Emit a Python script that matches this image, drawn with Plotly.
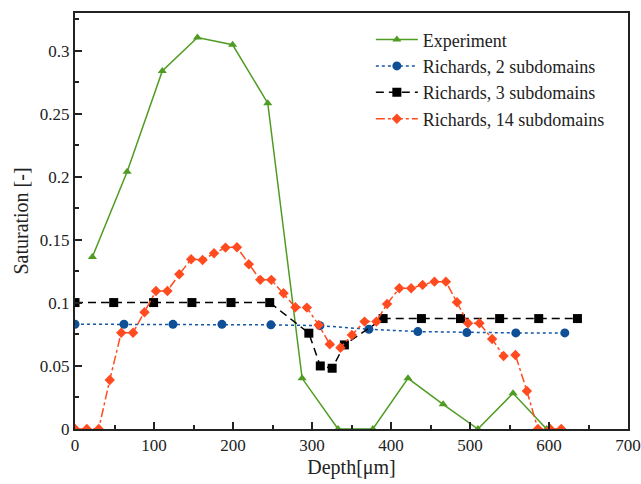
import plotly.graph_objects as go

# Experiment
exp_x = [22, 66, 110.5, 155, 199.5, 244, 287.5, 333, 377, 421.5, 466, 510, 554.5, 597]
exp_y = [0.1365, 0.204, 0.284, 0.3105, 0.3048, 0.2585, 0.0402, 0.0, 0.0, 0.0402, 0.0196, 0.0, 0.0283, 0.0]

# Richards, 2 subdomains
r2_x = [0, 62, 124, 186, 248, 310, 372, 434, 496, 558, 620]
r2_y = [0.0831, 0.0831, 0.083, 0.083, 0.0826, 0.082, 0.0791, 0.0773, 0.0765, 0.0762, 0.0762]

# Richards, 3 subdomains
r3_x = [0, 49, 99.5, 148, 197.5, 246.5, 296, 310.5, 325.5, 341, 390, 438.5, 488, 537.5, 587, 636]
r3_y = [0.1003, 0.1003, 0.1003, 0.1003, 0.1003, 0.1003, 0.076, 0.050, 0.0482, 0.0667,
        0.0876, 0.0876, 0.0876, 0.0876, 0.0876, 0.0876]

# Richards, 14 subdomains
r14_x = [0, 15, 30, 44, 58.5, 73.5, 88, 102.5, 117, 132, 147, 161.5, 176, 190.5, 205,
         220, 234.5, 248.5, 264, 279, 293.5, 308.5, 322.5, 336, 350.5, 366.5, 381.5,
         395, 410.5, 425.5, 440, 455, 469.5, 483.5, 497.5, 512, 528, 542.5, 557.5,
         572, 586, 601.5, 615.5]
r14_y = [0.0, 0.0, 0.0, 0.0389, 0.0764, 0.0764, 0.0926, 0.1095, 0.1095, 0.1228, 0.1347,
         0.1341, 0.1394, 0.1439, 0.1442, 0.1307, 0.1183, 0.1183, 0.1077, 0.0966, 0.0963,
         0.0825, 0.0672, 0.0645, 0.0746, 0.0852, 0.0852, 0.0992, 0.1117, 0.1117, 0.1143,
         0.1169, 0.1169, 0.1005, 0.0839, 0.0839, 0.0714, 0.0579, 0.0587, 0.0302, 0.0,
         0.0, 0.0]

FONT = "Liberation Serif, Times New Roman, serif"

fig = go.Figure()
fig.add_trace(go.Scatter(x=exp_x, y=exp_y, name="Experiment", mode="lines+markers",
                         line=dict(color="#4f9c22", width=1.5),
                         marker=dict(symbol="triangle-up", size=8, color="#4f9c22")))
fig.add_trace(go.Scatter(x=r2_x, y=r2_y, name="Richards, 2 subdomains", mode="lines+markers",
                         line=dict(color="#1257a8", width=1.5, dash="dot"),
                         marker=dict(symbol="circle", size=9, color="#0f4f96")))
fig.add_trace(go.Scatter(x=r3_x, y=r3_y, name="Richards, 3 subdomains", mode="lines+markers",
                         line=dict(color="black", width=1.5, dash="8px,5px"),
                         marker=dict(symbol="square", size=9, color="black")))
fig.add_trace(go.Scatter(x=r14_x, y=r14_y, name="Richards, 14 subdomains", mode="lines+markers",
                         line=dict(color="#ff4b1f", width=1.5, dash="dashdot"),
                         marker=dict(symbol="diamond", size=8, color="#ff4b1f")))

axis_common = dict(showline=True, linecolor="#222", linewidth=2, mirror=True,
                   ticks="inside", ticklen=7, tickwidth=1.5, tickcolor="#222",
                   showgrid=False, zeroline=False, automargin=False,
                   tickfont=dict(family=FONT, size=17, color="#222"))

fig.update_xaxes(range=[0, 700], dtick=100, tick0=0,
                 minor=dict(dtick=50, ticks="inside", ticklen=4, tickcolor="#222"),
                 title=dict(text="Depth[μm]", font=dict(family=FONT, size=20, color="#222"), standoff=6),
                 **axis_common)
fig.update_yaxes(range=[0, 0.33], dtick=0.05, tick0=0,
                 minor=dict(dtick=0.025, ticks="inside", ticklen=4, tickcolor="#222"),
                 title=dict(text="Saturation [-]", font=dict(family=FONT, size=20, color="#222"), standoff=6),
                 **axis_common)

fig.update_layout(width=641, height=484,
                  margin=dict(l=75, r=13, t=13, b=55),
                  plot_bgcolor="white", paper_bgcolor="white",
                  font=dict(family=FONT, color="#222"),
                  legend=dict(x=0.535, y=0.98, xanchor="left", yanchor="top",
                              itemwidth=42,
                              font=dict(family=FONT, size=18, color="#222"),
                              bgcolor="rgba(255,255,255,0)", tracegroupgap=0))

fig.write_html("out.html")
